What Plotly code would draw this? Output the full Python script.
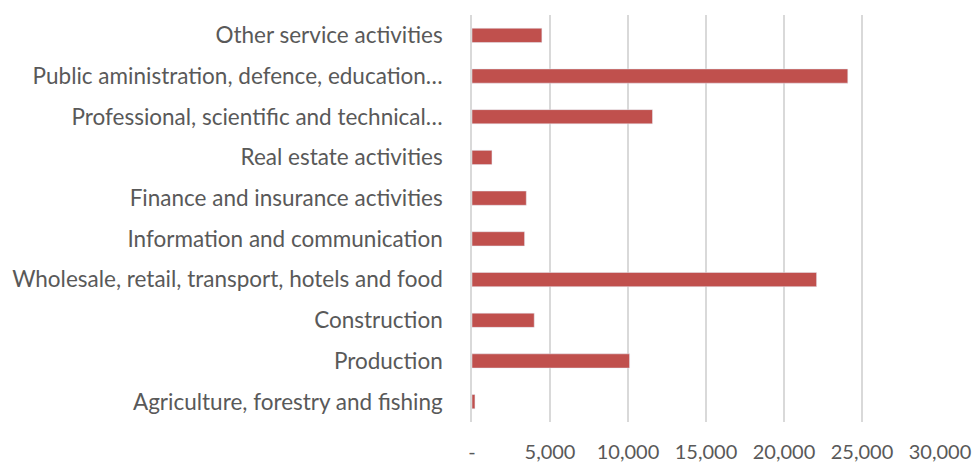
import plotly.graph_objects as go

categories = [
    "Agriculture, forestry and fishing",
    "Production",
    "Construction",
    "Wholesale, retail, transport, hotels and food",
    "Information and communication",
    "Finance and insurance activities",
    "Real estate activities",
    "Professional, scientific and technical…",
    "Public aministration, defence, education…",
    "Other service activities",
]
values = [190, 10100, 3990, 22090, 3370, 3480, 1280, 11570, 24090, 4480]

tick_vals = [0, 5000, 10000, 15000, 20000, 25000, 30000]
tick_text = ["-", "5,000", "10,000", "15,000", "20,000", "25,000", "30,000"]

fig = go.Figure(
    go.Bar(
        y=categories,
        x=values,
        orientation="h",
        marker=dict(color="#C0504D"),
        width=0.35,
    )
)

fig.update_layout(
    width=976,
    height=462,
    margin=dict(l=472, r=36, t=15, b=40),
    paper_bgcolor="white",
    plot_bgcolor="white",
    font=dict(family="Lato, Calibri, sans-serif", size=20, color="#595959"),
    showlegend=False,
)
fig.update_xaxes(
    range=[0, 30000],
    tickvals=tick_vals,
    ticktext=tick_text,
    showgrid=True,
    gridcolor="#D9D9D9",
    gridwidth=1.5,
    zeroline=False,
    showline=False,
    ticks="",
    automargin=False,
    ticklabelstandoff=16,
    tickfont=dict(size=20),
)
fig.update_yaxes(
    categoryorder="array",
    categoryarray=categories,
    showgrid=False,
    zeroline=False,
    showline=True,
    linecolor="#D9D9D9",
    linewidth=1.5,
    ticks="",
    automargin=False,
    ticklabelstandoff=23,
    tickfont=dict(size=22.5),
)

fig.write_html(
    "out.html",
    config={"displayModeBar": False},
    post_script="document.body.style.margin='0';document.body.style.overflow='hidden';",
)
